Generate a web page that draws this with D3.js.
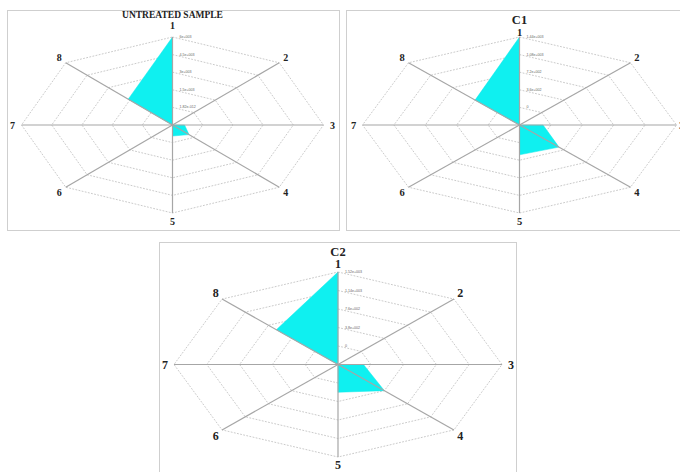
<!DOCTYPE html>
<html>
<head>
<meta charset="utf-8">
<script src="https://cdn.jsdelivr.net/npm/d3@7"></script>
<style>
	html, body { margin: 0; padding: 0; background: #fff; }
	svg { display: block; }
</style>
</head>
<body>
<div id="chart"></div>
<script>
(function () {
	// axis names, clockwise from the top
	const axes = ["1", "2", "3", "4", "5", "6", "7", "8"]

	// untreated sample
	const untreatedValues = [6000, -1500, -900, -340, -560, -1500, -1500, 1610]
	const untreatedDomain = [-1500, 6000]
	const untreatedTicks = [0, 1500, 3000, 4500, 6000]
	const untreatedTickLabels = ["1.82e-012", "1.5e+003", "3e+003", "4.5e+003", "6e+003"]

	// C1
	const c1Values = [1440, -360, -90, 280, 250, -360, -360, 360]
	const c1Domain = [-360, 1440]
	const c1Ticks = [0, 360, 720, 1080, 1440]
	const c1TickLabels = ["0", "3.6e+002", "7.2e+002", "1.08e+003", "1.44e+003"]

	// C2
	const c2Values = [1520, -380, -85, 380, 190, -380, -380, 630]
	const c2Domain = [-380, 1520]
	const c2Ticks = [0, 380, 760, 1140, 1520]
	const c2TickLabels = ["0", "3.8e+002", "7.6e+002", "1.14e+003", "1.52e+003"]

	const W = 680, H = 472

	const svg = d3.select("#chart").append("svg")
		.attr("width", W)
		.attr("height", H)

	// placement of each small radar (layout only)
	const panels = [
		{ title: "UNTREATED SAMPLE", values: untreatedValues, domain: untreatedDomain, ticks: untreatedTicks, tickLabels: untreatedTickLabels,
			box: [7, 10, 332, 220], cx: 172.5, cy: 125, rx: 151, ry: 88, titleY: 14.5, titleSize: 9.5, labelSize: 10, topGap: 11.5, rightGap: 9 },
		{ title: "C1", values: c1Values, domain: c1Domain, ticks: c1Ticks, tickLabels: c1TickLabels,
			box: [346, 10, 340, 220], cx: 519.5, cy: 125, rx: 157, ry: 88, titleY: 20, titleSize: 12.5, labelSize: 10.5, topGap: 5, rightGap: 5 },
		{ title: "C2", values: c2Values, domain: c2Domain, ticks: c2Ticks, tickLabels: c2TickLabels,
			box: [159, 242, 357, 240], cx: 338, cy: 364.5, rx: 164, ry: 92.5, titleY: 251.5, titleSize: 12.5, labelSize: 12, topGap: 8, rightGap: 9 }
	]

	const angle = d3.scalePoint().domain(axes).range([0, 2 * Math.PI * 7 / 8])

	panels.forEach(p => {
		const g = svg.append("g")

		g.append("rect")
			.attr("x", p.box[0] + 0.5).attr("y", p.box[1] + 0.5)
			.attr("width", p.box[2]).attr("height", p.box[3])
			.attr("fill", "#fff")
			.attr("stroke", "#cfcfcf")
			.attr("stroke-width", 1)

		const r = d3.scaleLinear().domain(p.domain).range([0, 1])
		const pt = (name, v) => {
			const a = angle(name) - Math.PI / 2
			const f = r(v)
			return [p.cx + p.rx * f * Math.cos(a), p.cy + p.ry * f * Math.sin(a)]
		}

		// dotted rings
		g.selectAll(".ring")
			.data(p.ticks)
			.enter().append("polygon")
			.attr("class", "ring")
			.attr("points", t => axes.map(a => pt(a, t).join(",")).join(" "))
			.attr("fill", "none")
			.attr("stroke", "#bdbdbd")
			.attr("stroke-width", 0.8)
			.attr("stroke-dasharray", "1.8,1.4")

		// data area
		g.append("polygon")
			.attr("points", axes.map((a, i) => pt(a, p.values[i]).join(",")).join(" "))
			.attr("fill", "#0ff0f0")
			.attr("stroke", "#0ee8e8")
			.attr("stroke-width", 0.5)

		// spokes
		g.selectAll(".spoke")
			.data(axes)
			.enter().append("line")
			.attr("class", "spoke")
			.attr("x1", p.cx).attr("y1", p.cy)
			.attr("x2", a => pt(a, p.domain[1])[0])
			.attr("y2", a => pt(a, p.domain[1])[1])
			.attr("stroke", "#a6a6a6")
			.attr("stroke-width", 1.2)

		// tiny ring values next to axis 1
		g.selectAll(".tick")
			.data(p.ticks)
			.enter().append("text")
			.attr("class", "tick")
			.attr("x", p.cx + 7)
			.attr("y", t => pt(axes[0], t)[1] + 1)
			.attr("font-family", "Liberation Sans, Arial, sans-serif")
			.attr("font-size", 3.6)
			.attr("fill", "#666")
			.text((t, i) => p.tickLabels[i])

		// axis names
		g.selectAll(".axis-label")
			.data(axes)
			.enter().append("text")
			.attr("class", "axis-label")
			.attr("x", a => {
				const [x] = pt(a, p.domain[1])
				const c = Math.cos(angle(a) - Math.PI / 2)
				if (a === "3") return x + p.rightGap
				return x + c * 9
			})
			.attr("y", a => {
				const [, y] = pt(a, p.domain[1])
				const s = Math.sin(angle(a) - Math.PI / 2)
				if (a === "1") return y - p.topGap
				return y + s * 8
			})
			.attr("text-anchor", "middle")
			.attr("dominant-baseline", "central")
			.attr("font-family", "Liberation Serif, Times New Roman, serif")
			.attr("font-weight", "bold")
			.attr("font-size", p.labelSize)
			.attr("fill", "#222")
			.text(a => a)

		g.append("text")
			.attr("x", p.cx)
			.attr("y", p.titleY)
			.attr("text-anchor", "middle")
			.attr("dominant-baseline", "central")
			.attr("font-family", "Liberation Serif, Times New Roman, serif")
			.attr("font-weight", "bold")
			.attr("font-size", p.titleSize)
			.attr("fill", "#222")
			.text(p.title)
	})
})()
</script>
</body>
</html>
